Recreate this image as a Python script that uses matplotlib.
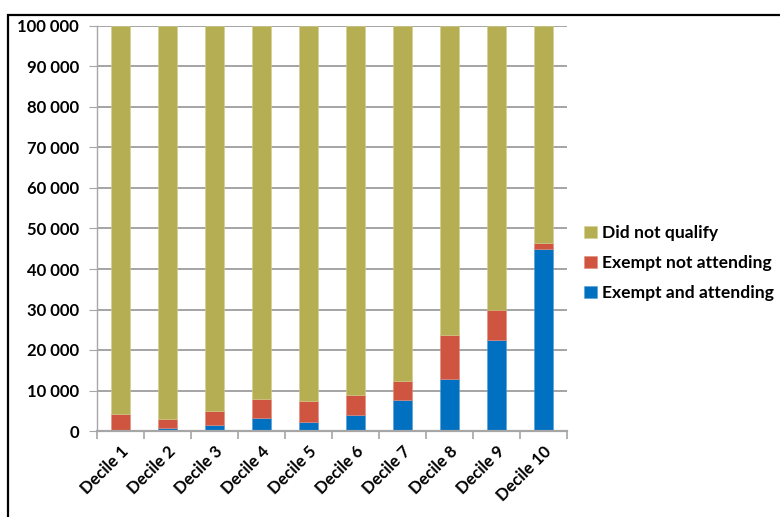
import matplotlib
matplotlib.use("Agg")
import matplotlib.pyplot as plt
from matplotlib.patches import Rectangle
from matplotlib.ticker import FuncFormatter
import numpy as np

plt.rcParams['font.family'] = ['Lato', 'DejaVu Sans']

categories = ["Decile 1", "Decile 2", "Decile 3", "Decile 4", "Decile 5",
              "Decile 6", "Decile 7", "Decile 8", "Decile 9", "Decile 10"]
exempt_attending = [300, 700, 1400, 3100, 2300, 4000, 7700, 12900, 22400, 45000]
exempt_not_attending = [3800, 2200, 3600, 4900, 5000, 5000, 4600, 10900, 7600, 1400]
total = 100000
did_not_qualify = [total - a - b for a, b in zip(exempt_attending, exempt_not_attending)]

col_dnq = "#B5AE52"
col_ena = "#D05540"
col_ea = "#0070C0"
grid_col = "#8C8C8C"

fig = plt.figure(figsize=(7.8, 5.17), dpi=100)
ax = fig.add_axes([97 / 780, 86 / 517, 470 / 780, 405 / 517])

x = np.arange(len(categories))
w = 0.41
b1 = ax.bar(x, exempt_attending, w, color=col_ea, label="Exempt and attending",
            edgecolor="#5B9BD5", linewidth=0.4)
b2 = ax.bar(x, exempt_not_attending, w, bottom=exempt_attending, color=col_ena,
            label="Exempt not attending", edgecolor="#E08C7E", linewidth=0.4)
bottom2 = [a + b for a, b in zip(exempt_attending, exempt_not_attending)]
b3 = ax.bar(x, did_not_qualify, w, bottom=bottom2, color=col_dnq,
            label="Did not qualify", edgecolor="#D3CE8C", linewidth=0.4)

ax.set_xlim(-0.5, len(categories) - 0.5)
ax.set_ylim(0, 100000)
ax.set_yticks(np.arange(0, 100001, 10000))
ax.yaxis.set_major_formatter(FuncFormatter(lambda v, p: f"{int(v):,}".replace(",", " ")))
ax.grid(axis="y", color=grid_col, linewidth=1.1)
ax.set_axisbelow(True)

for s in ["top", "right"]:
    ax.spines[s].set_visible(False)
ax.spines["left"].set_color("#A6A6A6")
ax.spines["bottom"].set_color("#A6A6A6")
ax.spines["left"].set_linewidth(1.0)
ax.spines["bottom"].set_linewidth(1.6)

ax.tick_params(axis="y", length=6, color="#A6A6A6", labelsize=12, pad=7)
ax.set_xticks(x)
ax.set_xticklabels(categories, rotation=45, ha="right", rotation_mode="anchor",
                   fontsize=12, fontweight="bold")
ax.tick_params(axis="x", length=0, pad=9)
ax.set_xticks(np.arange(-0.5, len(categories), 1.0), minor=True)
ax.tick_params(axis="x", which="minor", length=6, color="#A6A6A6", width=1.2)
for lbl in ax.get_yticklabels():
    lbl.set_fontweight("bold")

handles = [b3, b2, b1]
leg = fig.legend(handles, [h.get_label() for h in handles], loc="center left",
                 bbox_to_anchor=(572 / 780, 1 - 263 / 517), frameon=False,
                 prop={"size": 12.6, "weight": "bold"}, handlelength=0.7,
                 handleheight=0.7, handletextpad=0.3, labelspacing=0.8,
                 borderaxespad=0.3)

# chart frame
fig.patches.append(Rectangle((8 / 780, -0.1), 1.2, 1.1 - 15 / 517,
                             transform=fig.transFigure, fill=False,
                             edgecolor="black", linewidth=1.6))

fig.savefig("out.png", dpi=100)
